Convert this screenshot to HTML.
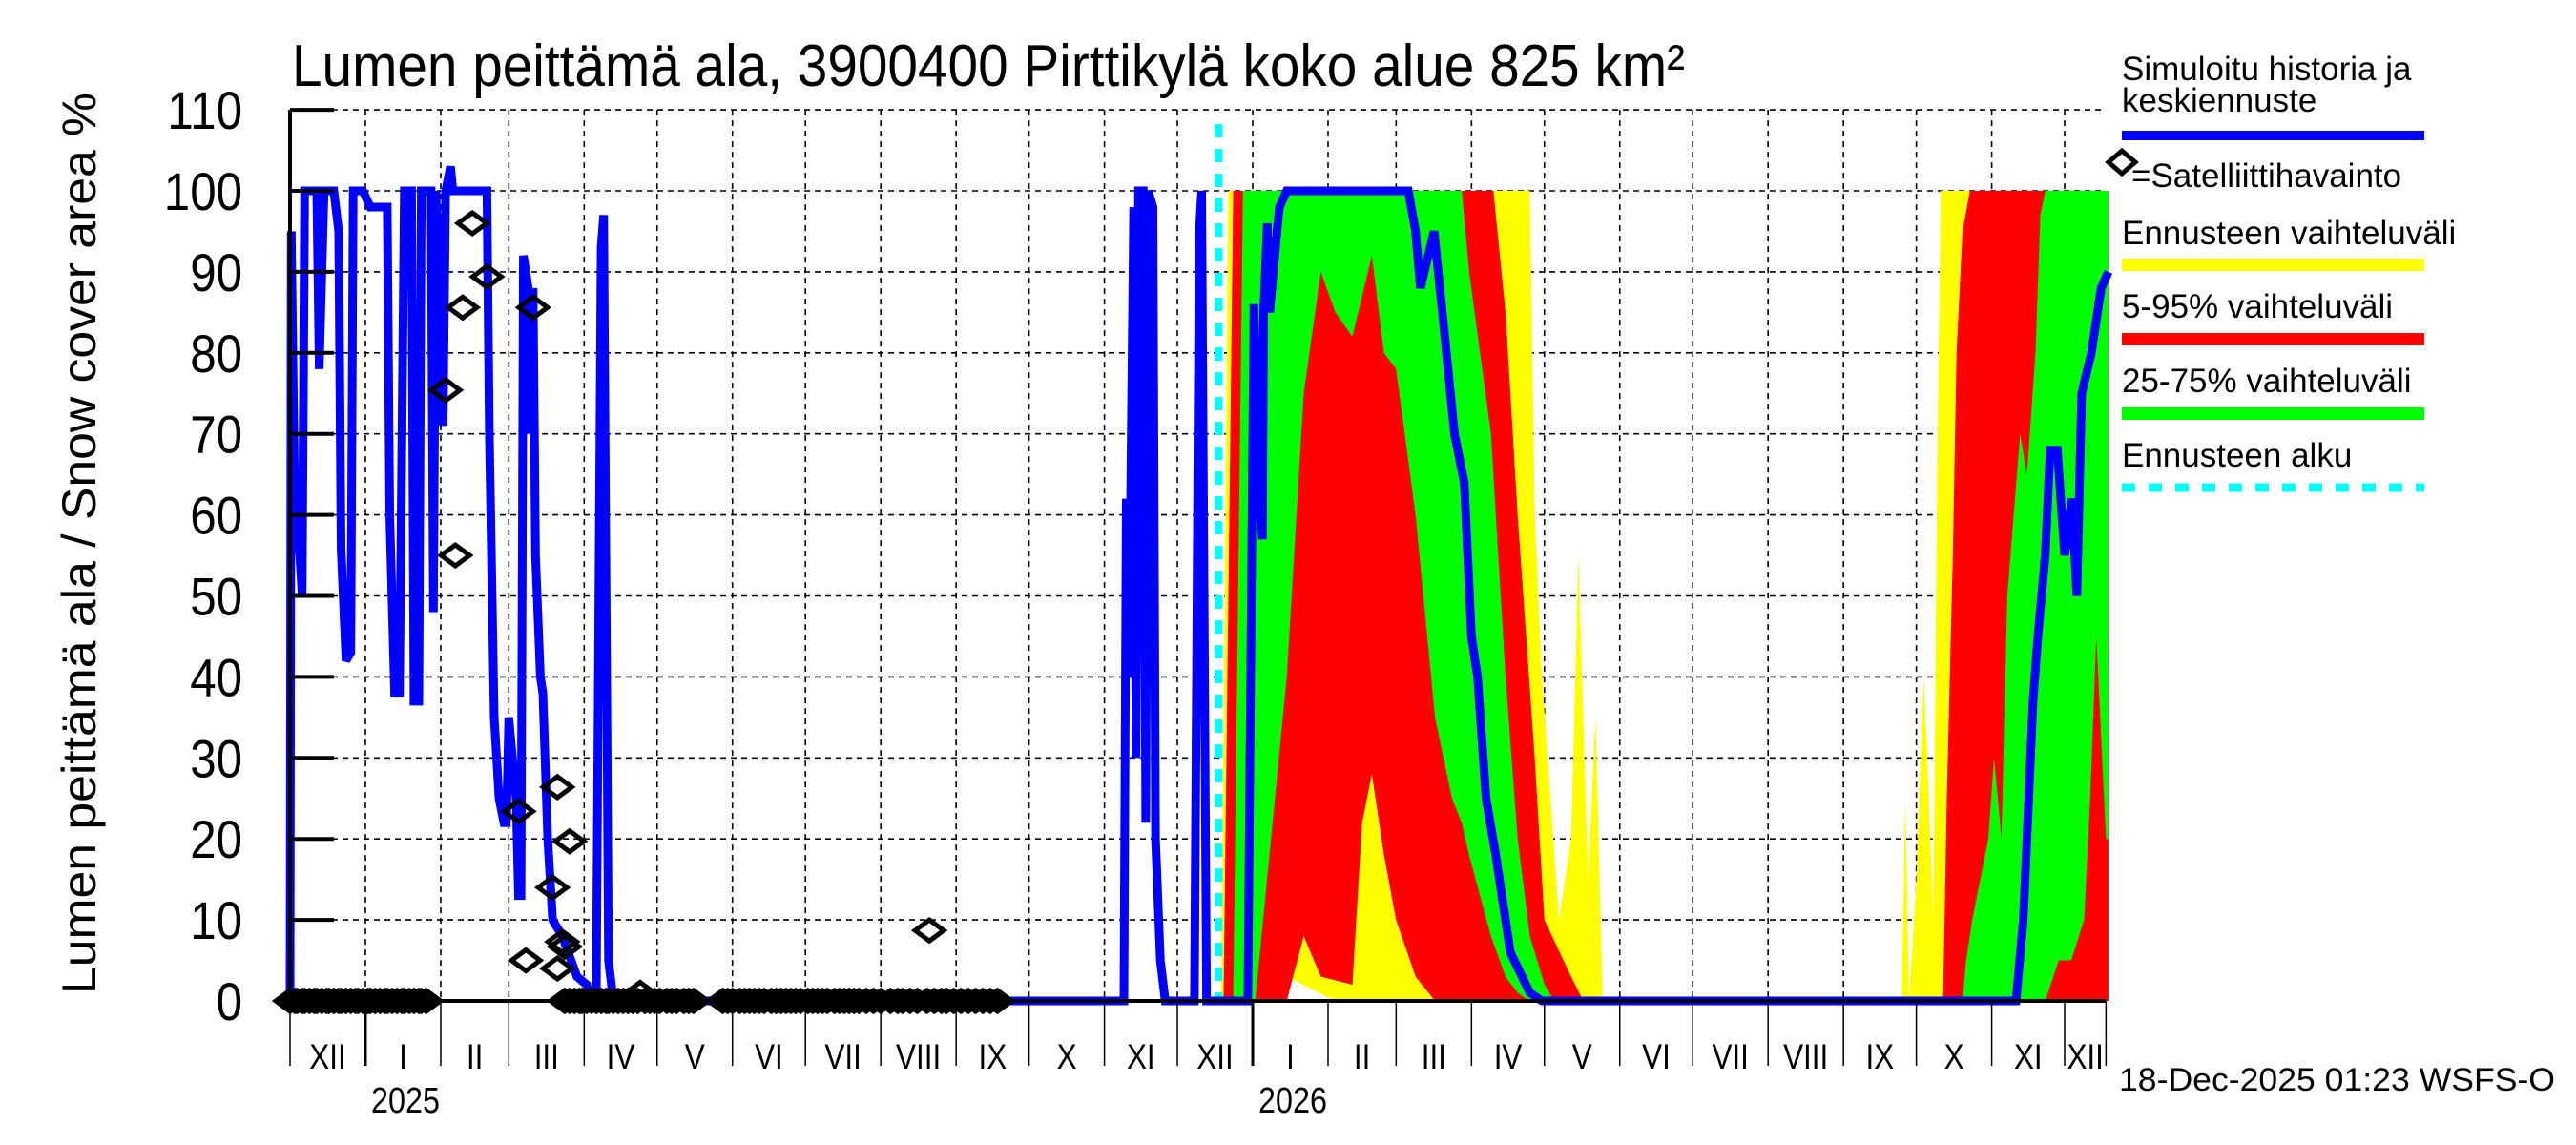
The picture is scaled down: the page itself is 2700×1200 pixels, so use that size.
<!DOCTYPE html>
<html><head><meta charset="utf-8"><style>
html,body{margin:0;padding:0;background:#fff;width:2700px;height:1200px;overflow:hidden}
svg{display:block}
text{font-family:"Liberation Sans",sans-serif;fill:#000}
</style></head><body>
<svg id="chart" width="2700" height="1200" viewBox="0 0 2700 1200" xmlns="http://www.w3.org/2000/svg">
<text x="306" y="90" font-size="62" textLength="1460" lengthAdjust="spacingAndGlyphs">Lumen peittämä ala, 3900400 Pirttikylä koko alue 825 km²</text>
<text transform="translate(100,1042) rotate(-90)" font-size="50" textLength="945" lengthAdjust="spacingAndGlyphs">Lumen peittämä ala / Snow cover area    %</text>
<g id="grid"></g>
<g id="bands"></g>
<g id="lines"></g>
<g id="obs"></g>
<g id="axes"></g>
<g id="legend">
<text class="sq" x="2224" y="84" font-size="35">Simuloitu historia ja</text>
<text class="sq" x="2224" y="117" font-size="35">keskiennuste</text>
<rect x="2224" y="137" width="317" height="10" fill="#0000ff"/>
<path d="M2224 158 L2238 170 L2224 182 L2210 170 Z" fill="none" stroke="#000" stroke-width="5"/>
<text class="sq" x="2234" y="196" font-size="35">=Satelliittihavainto</text>
<text class="sq" x="2224" y="256" font-size="35">Ennusteen vaihteluväli</text>
<rect x="2224" y="271" width="317" height="13" fill="#ffff00"/>
<text class="sq" x="2224" y="333" font-size="35">5-95% vaihteluväli</text>
<rect x="2224" y="349" width="317" height="13" fill="#ff0000"/>
<text class="sq" x="2224" y="411" font-size="35">25-75% vaihteluväli</text>
<rect x="2224" y="427" width="317" height="13" fill="#00ff00"/>
<text class="sq" x="2224" y="489" font-size="35">Ennusteen alku</text>
<line x1="2224" y1="511" x2="2541" y2="511" stroke="#00ffff" stroke-width="9" stroke-dasharray="14,14"/>
</g>
<text x="2221" y="1143" font-size="34" textLength="457" lengthAdjust="spacingAndGlyphs">18-Dec-2025 01:23 WSFS-O</text>
</svg>
<script>
// ---- data (day index from 1-Dec-2024, value in %) ----
const yTicks = [0,10,20,30,40,50,60,70,80,90,100,110];
const monthStarts = [0,31,62,90,121,151,182,212,243,274,304,335,365,396,427,455,486,516,547,577,608,639,669,700,730,747];
const monthLabels = ["XII","I","II","III","IV","V","VI","VII","VIII","IX","X","XI","XII","I","II","III","IV","V","VI","VII","VIII","IX","X","XI","XII"];
const yearLabels = ["2025","2026"];
const yearDays = [31,396];
const forecastStartDay = 382;

const simDays = [0,0.5,2,4,5,6,9,11,12,14,18,20,21,23,25,26,30,33,38,40,41,43,45,47,50,51,53,54,58,59,60,63,64,66,67,81,82,84,86,88,89,90,93,94,95,96,98,99,100,101,103,104,106,108,112,118,122,124,126,128,129,131,133,343,344,345,347,348,349,351,352,353,355,356,358,360,372,374,375,377,381,
 383,394,396.5,398.6,400,400.5,402,403,406,407,410,460,463,465,470.6,474,479,483,486,488.5,492,496,502,510,515,710,713,717,719,722,724,727,730,733,735,737,741,745,748];
const simVals = [0,95,60,55,50,100,100,100,78,100,100,95,56,42,43,100,100,98,98,98,60,38,38,100,100,37,37,100,100,48,100,71,100,103,100,100,70,35,25,22,22,35,25,13,13,92,88,70,88,55,40,38,20,10,8,3,2,0,1,93,97,5,0,0,62,40,98,30,100,100,22,100,98,20,5,0,0,95,100,0,0,
 0,0,86,62,57,85,96,85,95,98,100,100,95,88,95,85,70,64,45,40,25,18,6,1,0,0,10,37,45,55,68,68,55,62,50,75,80,88,90];

const yelDays1 = [383,386,391,396,410,430,460,480,497,505,510,512,515,522,527,530,534,537,540];
const yelHi1   = [0,100,100,100,100,100,100,100,100,100,100,60,40,10,20,55,15,35,0];
const yelLo1   = [0,0,0,0,3,0,0,0,0,0,0,0,0,0,0,0,0,0,0];
const redDays1 = [384,388,410,417,424,437,441,445,450,455,463,471,478,486,495,500,505,512,516,527,532];
const redHi1   = [0,100,100,100,100,100,100,100,100,100,100,100,100,100,100,85,60,30,10,3,0];
const redLo1   = [0,0,0,8,3,2,22,28,18,10,3,0,0,0,0,0,0,0,0,0,0];
const grnDays1 = [388,392,397,410,417,424,430,437,445,450,455,463,471,478,482,485,494,500,505,510,516,520];
const grnHi1   = [0,100,100,100,100,100,100,100,100,100,100,100,100,100,100,90,70,40,20,8,2,0];
const grnLo1   = [0,0,0,40,75,90,85,82,92,80,78,60,35,25,22,18,8,3,1,0,0,0];

const yelDays2 = [663,664.5,666,669,672,673.5,676,677.4,679,748];
const yelHi2   = [0,25,0,15,40,30,10,60,100,100];
const yelLo2   = [0,0,0,0,0,0,0,0,0,0];
const redDays2 = [680,681.5,684,685.5,688,691,748];
const redHi2   = [0,25,55,80,95,100,100];
const redLo2   = [0,0,0,0,0,0,0];
const grnDays2 = [688,689.5,692,698.6,701,704,706.4,711.7,714.5,718,720,722,727.6,732.7,738,740.5,743,747,748];
const grnHi2   = [0,5,10,20,30,20,50,70,65,80,97,100,100,100,100,100,100,100,100];
const grnLo2   = [0,0,0,0,0,0,0,0,0,0,0,0,5,5,10,25,45,20,20];

const obsDays = [64,68,71,75,81,100,94,97,108,110,115,112,113,110,263,144];
const obsVals = [75.4,55,85.6,96,89.4,85.6,23.4,5,14,26.4,19.7,7.3,6.7,4,8.7,1];
const zeroObsDays = [0,2,3,5,6,8,10,11,13,15,16,18,20,21,23,25,27,28,30,32,33,35,37,39,40,42,44,46,47,49,51,53,54,56,
 113,115,117,119,120,122,124,126,128,130,131,133,135,137,139,141,143,146,148,150,152,155,157,159,162,164,166,
 178,180,182,185,187,189,191,193,195,198,200,202,204,206,208,210,213,215,217,219,221,224,226,228,230,232,234,237,240,243,247,250,252,255,258,262,265,268,270,273,276,279,282,285,288,291];

// ---- scales ----
const X0 = 304, PXD = 2.548, Y0 = 1049, PXV = 8.49, XR = 2207;
function xs(d){ return X0 + d*PXD; }
function ys(v){ return Y0 - v*PXV; }
const NS = "http://www.w3.org/2000/svg";
function mk(tag, attrs, parent){ const e = document.createElementNS(NS, tag); for (const k in attrs) e.setAttribute(k, attrs[k]); parent.appendChild(e); return e; }
function squeeze(t, f){ const w = t.getComputedTextLength(); t.setAttribute('textLength', (w*f).toFixed(1)); t.setAttribute('lengthAdjust','spacingAndGlyphs'); }

const grid = document.getElementById('grid');
yTicks.forEach(v => {
  if (v === 0) return;
  const l = mk('line', {x1:X0, x2:XR, y1:ys(v), y2:ys(v), stroke:'#000', 'stroke-width':1.6, 'stroke-dasharray':'6,5'}, grid);
  
  
});
monthStarts.forEach((d, i) => {
  if (i === 0 || d >= 747) return;
  const l = mk('line', {x1:xs(d), x2:xs(d), y1:ys(110), y2:Y0, stroke:'#000', 'stroke-width':1.6, 'stroke-dasharray':'6,5'}, grid);
  
  
});

const bands = document.getElementById('bands');
function band(days, hi, lo, color, name){
  let pts = [];
  for (let i=0;i<days.length;i++) pts.push(xs(days[i]).toFixed(1)+','+ys(hi[i]).toFixed(1));
  for (let i=days.length-1;i>=0;i--) pts.push(xs(days[i]).toFixed(1)+','+ys(lo[i]).toFixed(1));
  const p = mk('polygon', {points:pts.join(' '), fill:color}, bands);
  
  
}
band(yelDays1, yelHi1, yelLo1, '#ffff00', 'range-band-winter1');
band(redDays1, redHi1, redLo1, '#ff0000', 'band-5-95-winter1');
band(grnDays1, grnHi1, grnLo1, '#00ff00', 'band-25-75-winter1');
band(yelDays2, yelHi2, yelLo2, '#ffff00', 'range-band-winter2');
band(redDays2, redHi2, redLo2, '#ff0000', 'band-5-95-winter2');
band(grnDays2, grnHi2, grnLo2, '#00ff00', 'band-25-75-winter2');

const fl = mk('line', {x1:xs(forecastStartDay), x2:xs(forecastStartDay), y1:ys(110)+15, y2:Y0, stroke:'#00ffff', 'stroke-width':8, 'stroke-dasharray':'14,12'}, bands);



const lines = document.getElementById('lines');
const sp = mk('polyline', {points: simDays.map((d,i)=>xs(d).toFixed(1)+','+ys(simVals[i]).toFixed(1)).join(' '), fill:'none', stroke:'#0000ff', 'stroke-width':9, 'stroke-linejoin':'miter', 'stroke-miterlimit':3}, lines);



const obs = document.getElementById('obs');
function diamond(d, v){
  const cx = xs(d), cy = ys(v);
  const p = mk('path', {d:`M${cx-15} ${cy} L${cx} ${cy-11} L${cx+15} ${cy} L${cx} ${cy+11} Z`, fill:'none', stroke:'#000', 'stroke-width':5}, obs);
  
  
}
zeroObsDays.forEach(d => diamond(d, 0));
obsDays.forEach((d,i) => diamond(d, obsVals[i]));

const axes = document.getElementById('axes');
const ya = mk('line', {x1:X0, x2:X0, y1:ys(110), y2:Y0, stroke:'#000', 'stroke-width':4}, axes);


const xa = mk('line', {x1:X0, x2:XR, y1:Y0, y2:Y0, stroke:'#000', 'stroke-width':4}, axes);


yTicks.forEach(v => {
  const t = mk('line', {x1:X0, x2:X0+46, y1:ys(v), y2:ys(v), stroke:'#000', 'stroke-width':4}, axes);
  
  
  const tx = mk('text', {x:254, y:ys(v)+20, 'font-size':56, 'text-anchor':'end'}, axes);
  
  
  tx.textContent = v;
  squeeze(tx, 0.88);
});
monthStarts.forEach((d, i) => {
  const isJan = yearDays.indexOf(d) >= 0;
  const t = mk('line', {x1:xs(d), x2:xs(d), y1:Y0, y2:1117, stroke:'#000', 'stroke-width': isJan ? 3 : 1.5}, axes);
  
  
  if (i < monthLabels.length){
    const mid = (d + monthStarts[i+1]) / 2;
    const tx = mk('text', {x:xs(mid), y:1120, 'font-size':37, 'text-anchor':'middle'}, axes);
    
    
    tx.textContent = monthLabels[i];
    squeeze(tx, 0.85);
  }
});
yearLabels.forEach((lab, i) => {
  const tx = mk('text', {x:xs(yearDays[i])+42, y:1166, 'font-size':38, 'text-anchor':'middle'}, axes);
  
  
  tx.textContent = lab;
  squeeze(tx, 0.85);
});
</script>
</body></html>
